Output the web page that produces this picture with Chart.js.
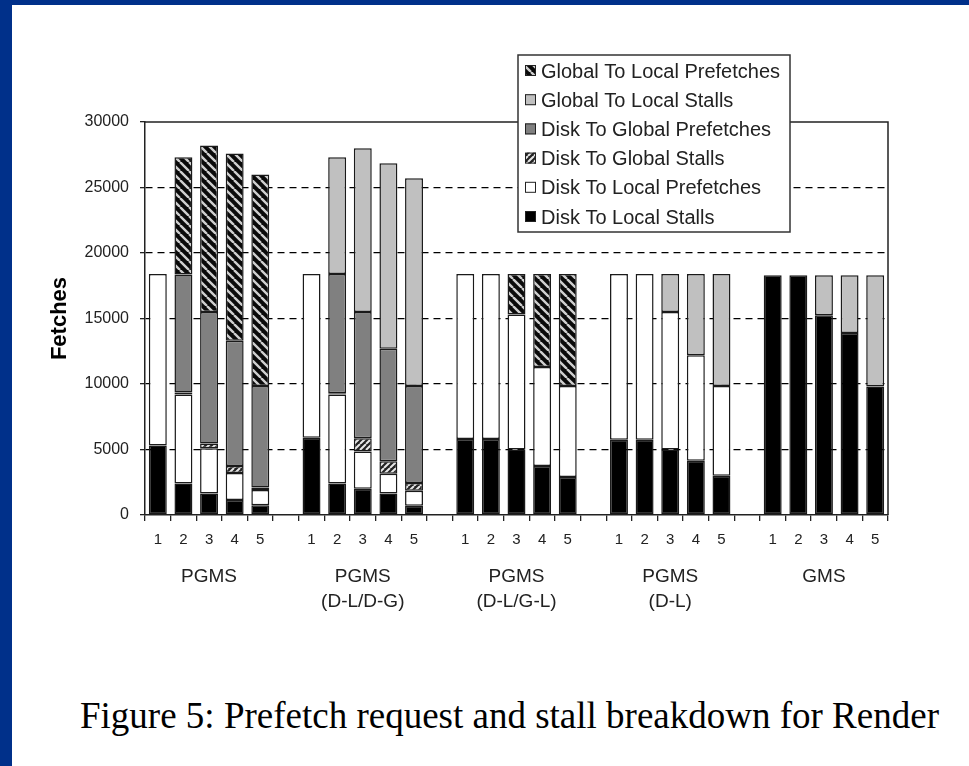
<!DOCTYPE html>
<html>
<head>
<meta charset="utf-8">
<script src="https://cdn.jsdelivr.net/npm/chart.js@4.4.1/dist/chart.umd.min.js"></script>
<style>
html, body { margin: 0; padding: 0; }
body { width: 969px; height: 766px; background: #00308a; position: relative; overflow: hidden; }
#page { position: absolute; left: 12px; top: 5px; right: 0; bottom: 0; background: #fff; }
#wrap { position: absolute; left: 0; top: 0; width: 969px; height: 650px; }
#caption { position: absolute; left: 80px; top: 694px; font-family: "Liberation Serif", "Times New Roman", serif;
  font-size: 37px; color: #000; white-space: nowrap; }
</style>
</head>
<body>
<div id="page"></div>
<div id="wrap"><canvas id="render-chart"></canvas></div>
<div id="caption">Figure 5: Prefetch request and stall breakdown for Render</div>
<script>
// 5 configurations x 5 runs, blank category between groups
var categories = ['1','2','3','4','5','', '1','2','3','4','5','', '1','2','3','4','5','', '1','2','3','4','5','', '1','2','3','4','5'];
var groupNames = [['PGMS'], ['PGMS', '(D-L/D-G)'], ['PGMS', '(D-L/G-L)'], ['PGMS', '(D-L)'], ['GMS']];

var diskToLocalStalls = [5300, 2400, 1650, 1150, 750, null,
  5900, 2400, 2000, 1650, 700, null,
  5800, 5800, 5000, 3750, 2900, null,
  5750, 5750, 5000, 4150, 3000, null,
  18300, 18300, 15250, 13900, 9800];
var diskToLocalPrefetches = [13100, 6800, 3450, 2050, 1150, null,
  12500, 6800, 2850, 1500, 1150, null,
  12600, 12600, 10300, 7550, 6950, null,
  12650, 12650, 10500, 8050, 6850, null,
  null, null, null, null, null];
var diskToGlobalStalls = [null, 150, 350, 550, 200, null,
  null, 100, 1000, 950, 600, null,
  null, null, null, null, null, null,
  null, null, null, null, null, null,
  null, null, null, null, null];
var diskToGlobalPrefetches = [null, 9000, 10050, 9550, 7750, null,
  null, 9100, 9650, 8600, 7400, null,
  null, null, null, null, null, null,
  null, null, null, null, null, null,
  null, null, null, null, null];
var globalToLocalStalls = [null, null, null, null, null, null,
  null, 8900, 12500, 14150, 15850, null,
  null, null, null, null, null, null,
  null, null, 2900, 6200, 8550, null,
  null, null, 3050, 4400, 8500];
var globalToLocalPrefetches = [null, 8950, 12700, 14300, 16150, null,
  null, null, null, null, null, null,
  null, null, 3100, 7100, 8550, null,
  null, null, null, null, null, null,
  null, null, null, null, null];

var yMax = 30000;
var yStep = 5000;

function stripes(size, bg, fg, width, down) {
  var c = document.createElement('canvas');
  c.width = size; c.height = size;
  var g = c.getContext('2d');
  g.fillStyle = bg;
  g.fillRect(0, 0, size, size);
  g.strokeStyle = fg;
  g.lineWidth = width;
  g.beginPath();
  for (var k = -size; k <= size; k += size) {
    if (down) { g.moveTo(k, 0); g.lineTo(k + size, size); }
    else { g.moveTo(k, size); g.lineTo(k + size, 0); }
  }
  g.stroke();
  return g.createPattern(c, 'repeat');
}

var ctx = document.getElementById('render-chart').getContext('2d');
var glpPattern = stripes(9, '#0a0a0a', '#cfcfcf', 2.4, true);
var dgsPattern = stripes(6, '#222', '#e6e6e6', 2, false);

function series(label, data, fill) {
  return {
    label: label,
    data: data,
    backgroundColor: fill,
    borderColor: '#1a1a1a',
    borderWidth: 1.5,
    borderSkipped: false,
    barPercentage: 0.7,
    categoryPercentage: 1.0
  };
}

var extras = {
  id: 'extras',
  beforeDatasetsDraw: function(chart) {
    var a = chart.chartArea, c = chart.ctx;
    c.save();
    c.strokeStyle = '#222';
    c.lineWidth = 1.5;
    c.beginPath();
    c.moveTo(a.left, a.top);
    c.lineTo(a.right, a.top);
    c.lineTo(a.right, a.bottom);
    c.stroke();
    c.restore();
  },
  afterDraw: function(chart) {
    var c = chart.ctx, x = chart.scales.x;
    c.save();
    // configuration names under the middle run of each group
    c.fillStyle = '#222';
    c.font = '19px "Liberation Sans", Arial, sans-serif';
    c.textAlign = 'center';
    c.textBaseline = 'middle';
    var g = 0;
    categories.forEach(function(lab, i) {
      if (lab === '3') {
        var px = x.getPixelForValue(i);
        groupNames[g].forEach(function(line, j) {
          c.fillText(line, px, 577 + j * 25);
        });
        g++;
      }
    });
    // legend box
    c.fillStyle = '#fff';
    c.fillRect(518, 55, 272, 177);
    c.strokeStyle = '#333';
    c.lineWidth = 1.5;
    c.strokeRect(518, 55, 272, 177);
    c.font = '20px "Liberation Sans", Arial, sans-serif';
    c.textAlign = 'left';
    var ds = chart.data.datasets.slice().reverse();
    ds.forEach(function(d, i) {
      var cy = 71 + i * 29.2;
      c.fillStyle = d.backgroundColor;
      c.fillRect(525, cy - 6, 11, 11);
      c.strokeStyle = '#222';
      c.lineWidth = 1;
      c.strokeRect(525.5, cy - 5.5, 10, 10);
      c.fillStyle = '#222';
      c.fillText(d.label, 541, cy + 1);
    });
    c.restore();
  }
};

new Chart(ctx, {
  type: 'bar',
  data: {
    labels: categories,
    datasets: [
      series('Disk To Local Stalls', diskToLocalStalls, '#000'),
      series('Disk To Local Prefetches', diskToLocalPrefetches, '#fff'),
      series('Disk To Global Stalls', diskToGlobalStalls, dgsPattern),
      series('Disk To Global Prefetches', diskToGlobalPrefetches, '#808080'),
      series('Global To Local Stalls', globalToLocalStalls, '#c0c0c0'),
      series('Global To Local Prefetches', globalToLocalPrefetches, glpPattern)
    ]
  },
  options: {
    responsive: true,
    maintainAspectRatio: false,
    animation: false,
    layout: { padding: { left: 0, top: 122, right: 81, bottom: 0 } },
    plugins: {
      legend: { display: false },
      tooltip: { enabled: false }
    },
    scales: {
      x: {
        stacked: true,
        afterFit: function(s) { s.height = 135; },
        grid: { display: true, drawOnChartArea: false, drawTicks: true, tickLength: 6, color: '#222', lineWidth: 1.3, offset: true },
        border: { display: true, color: '#222', width: 1.5 },
        ticks: { autoSkip: false, maxRotation: 0, padding: 10, color: '#222',
          font: { family: '"Liberation Sans", Arial, sans-serif', size: 15 } }
      },
      y: {
        stacked: true,
        min: 0,
        max: yMax,
        afterFit: function(s) { s.width = 145; },
        grid: {
          drawOnChartArea: true, drawTicks: true, tickLength: 5, lineWidth: 1.3,
          color: function(c) { return (c.tick && (c.tick.value === 0 || c.tick.value === yMax)) ? 'rgba(0,0,0,0)' : '#000'; },
          tickColor: '#222', tickBorderDash: []
        },
        border: { display: true, color: '#222', width: 1.5, dash: [7, 5] },
        ticks: { stepSize: yStep, padding: 11, color: '#222',
          callback: function(v) { return String(v); },
          font: { family: '"Liberation Sans", Arial, sans-serif', size: 16 } },
        title: { display: true, text: 'Fetches', color: '#000', padding: { top: 47, bottom: 0 },
          font: { family: '"Liberation Sans", Arial, sans-serif', size: 22, weight: 'bold' } }
      }
    }
  },
  plugins: [extras]
});
</script>
</body>
</html>
